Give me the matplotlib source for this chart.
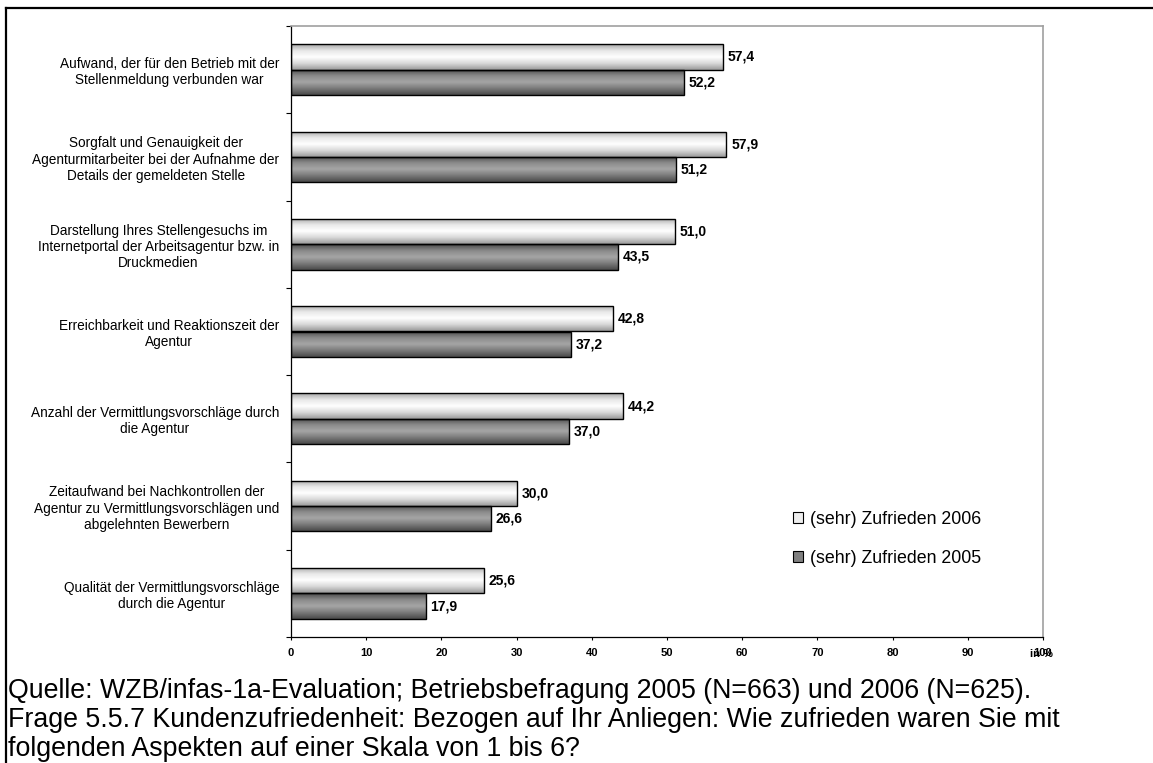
import numpy as np
import matplotlib
matplotlib.use("Agg")
import matplotlib.pyplot as plt
from matplotlib.lines import Line2D
from matplotlib.patches import Patch
from matplotlib.colors import LinearSegmentedColormap

plt.rcParams['font.family'] = ['Liberation Sans', 'DejaVu Sans']

# data, top to bottom
categories = [
    "Aufwand, der für den Betrieb mit der\nStellenmeldung verbunden war",
    "Sorgfalt und Genauigkeit der\nAgenturmitarbeiter bei der Aufnahme der\nDetails der gemeldeten Stelle",
    "Darstellung Ihres Stellengesuchs im\nInternetportal der Arbeitsagentur bzw. in\nDruckmedien",
    "Erreichbarkeit und Reaktionszeit der\nAgentur",
    "Anzahl der Vermittlungsvorschläge durch\ndie Agentur",
    "Zeitaufwand bei Nachkontrollen der\nAgentur zu Vermittlungsvorschlägen und\nabgelehnten Bewerbern",
    "Qualität der Vermittlungsvorschläge\ndurch die Agentur",
]
zufrieden_2006 = [57.4, 57.9, 51.0, 42.8, 44.2, 30.0, 25.6]
zufrieden_2005 = [52.2, 51.2, 43.5, 37.2, 37.0, 26.6, 17.9]
series_labels = ["(sehr) Zufrieden 2006", "(sehr) Zufrieden 2005"]
x_ticks = [0, 10, 20, 30, 40, 50, 60, 70, 80, 90, 100]
source_lines = [
    "Quelle: WZB/infas-1a-Evaluation; Betriebsbefragung 2005 (N=663) und 2006 (N=625).",
    "Frage 5.5.7 Kundenzufriedenheit: Bezogen auf Ihr Anliegen: Wie zufrieden waren Sie mit",
    "folgenden Aspekten auf einer Skala von 1 bis 6?",
]

W, H = 1153, 763
fig = plt.figure(figsize=(W / 100, H / 100), dpi=100)
ax = fig.add_axes([291 / W, 1 - 637 / H, (1043 - 291) / W, (637 - 26) / H])

# gradient colormaps (cylinder look of the bars)
light_cmap = LinearSegmentedColormap.from_list("light", ["#a8a8a8", "#e8e8e8", "#ffffff", "#d8d8d8", "#9a9a9a"])
dark_cmap = LinearSegmentedColormap.from_list("dark", ["#4a4a4a", "#8a8a8a", "#a6a6a6", "#7a7a7a", "#4a4a4a"])
grad = np.linspace(0, 1, 64).reshape(-1, 1)

n = len(categories)
centers = np.arange(n) + 0.5
bh = 0.29

def gradient_bars(ypos, values, cmap):
    bars = ax.barh(ypos, values, height=bh, color="none", edgecolor="black", linewidth=1.0, zorder=3)
    for b in bars:
        x0, y0 = b.get_x(), b.get_y()
        im = ax.imshow(grad, extent=[x0, x0 + b.get_width(), y0 + b.get_height(), y0],
                       aspect="auto", cmap=cmap, zorder=2, interpolation="bicubic")
        im.set_clip_path(b)
    return bars

b06 = gradient_bars(centers - bh / 2, zufrieden_2006, light_cmap)
b05 = gradient_bars(centers + bh / 2, zufrieden_2005, dark_cmap)

for bars, vals in ((b06, zufrieden_2006), (b05, zufrieden_2005)):
    for b, v in zip(bars, vals):
        ax.annotate(f"{v:.1f}".replace(".", ","), (v, b.get_y() + b.get_height() / 2),
                    xytext=(3.5, 0), textcoords="offset points", ha="left", va="center",
                    fontsize=10, fontweight="bold")

ax.set_xlim(0, 100)
ax.set_ylim(n, 0)

# group boundaries as major ticks, labels on minor ticks
ax.set_yticks(np.arange(n + 1))
ax.set_yticklabels([])
ax.set_yticks(centers, minor=True)
ax.set_yticklabels(categories, minor=True, fontsize=9.8, ha="right", ma="center")
ax.tick_params(axis="y", which="major", direction="out", length=3.6, width=0.8)
ax.tick_params(axis="y", which="minor", length=0, pad=8.5)

ax.set_xticks(x_ticks)
ax.set_xticklabels([str(t) for t in x_ticks], fontsize=8, fontweight="bold")
ax.tick_params(axis="x", direction="out", length=2.2, width=0.8, pad=6)
# unit label sits on top of the "100" like in the original
ax.annotate("in %", (98.3, 0), xycoords=("data", "axes fraction"), xytext=(0, -12.5),
            textcoords="offset points", ha="left", va="center", fontsize=8, fontweight="bold")

for side in ("top", "right"):
    ax.spines[side].set_color("#a0a0a0")
    ax.spines[side].set_linewidth(1.2)
for side in ("left", "bottom"):
    ax.spines[side].set_color("black")
    ax.spines[side].set_linewidth(0.9)

handles = [Patch(facecolor="#eeeeee", edgecolor="black", linewidth=0.8),
           Patch(facecolor="#808080", edgecolor="black", linewidth=0.8)]
fig.legend(handles, series_labels, loc="upper left", bbox_to_anchor=(793 / W, 1 - 511 / H),
           frameon=False, fontsize=12.8, handlelength=0.55, handleheight=0.55,
           handletextpad=0.4, labelspacing=1.22, borderpad=0, borderaxespad=0)

# source note below the chart
for i, line in enumerate(source_lines):
    fig.text(8 / W, 1 - (698 + 29 * i) / H, line, ha="left", va="baseline", fontsize=19.3)

# outer frame (top and left edges)
fig.add_artist(Line2D([6 / W, 1], [1 - 8 / H, 1 - 8 / H], color="black", linewidth=1.6))
fig.add_artist(Line2D([6 / W, 6 / W], [0, 1 - 8 / H], color="black", linewidth=1.6))

fig.savefig("out.png", dpi=100)
